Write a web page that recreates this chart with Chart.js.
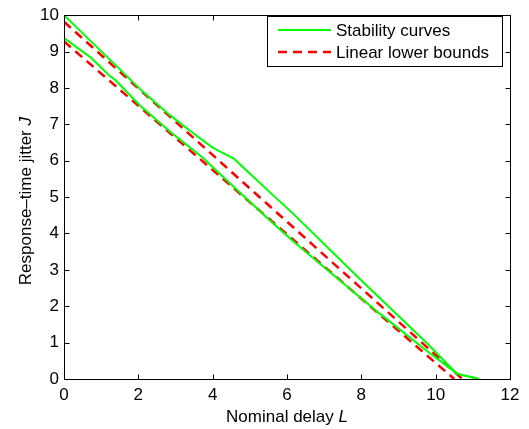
<!DOCTYPE html>
<html>
<head>
<meta charset="utf-8">
<script src="https://cdn.jsdelivr.net/npm/chart.js@4.4.0/dist/chart.umd.min.js"></script>
<style>
  html, body { margin: 0; padding: 0; background: #fff; }
</style>
</head>
<body>
<canvas id="grafico" width="529" height="429"></canvas>
<script>
// DADOS
const upperL = [0, 0.95, 2.12, 2.84, 3.46, 4.0, 4.58, 5.52, 6.15, 7.94, 9.74, 10.58, 11.17];
const upperJ = [10, 9.06, 7.9, 7.26, 6.77, 6.36, 6.05, 5.15, 4.56, 2.77, 1.01, 0.14, 0];
const lowerL = [0, 0.42, 0.73, 0.95, 1.22, 1.4, 2.03, 2.84, 3.73, 3.91, 5.52, 6.15, 7.94, 8.48, 9.74, 10.58, 11.17];
const lowerJ = [9.37, 9.06, 8.83, 8.61, 8.34, 8.2, 7.53, 6.81, 6.09, 5.91, 4.38, 3.8, 2.27, 1.81, 0.79, 0.14, 0];
const boundUpperL = [0, 10.72];
const boundUpperJ = [9.82, 0];
const boundLowerL = [0, 10.5];
const boundLowerJ = [9.28, 0];
const legendLabels = ['Stability curves', 'Linear lower bounds'];
const xTitle = ['Nominal delay ', 'L'];
const yTitle = ['Response\u2013time jitter ', 'J'];

const FONTE = '"Liberation Sans", Arial, Helvetica, sans-serif';
const VERDE = '#00ff00';
const VERMELHO = '#ff0000';

function pontos(xs, ys) {
    return xs.map((x, i) => ({ x: x, y: ys[i] }));
}

function textoMisto(ctx, partes, x, y) {
    // parte normal + parte em italico, centralizado em x
    ctx.font = '17px ' + FONTE;
    const w1 = ctx.measureText(partes[0]).width;
    ctx.font = 'italic 17px ' + FONTE;
    const w2 = ctx.measureText(partes[1]).width;
    let inicio = x - (w1 + w2) / 2;
    ctx.textAlign = 'left';
    ctx.textBaseline = 'middle';
    ctx.font = '17px ' + FONTE;
    ctx.fillText(partes[0], inicio, y);
    ctx.font = 'italic 17px ' + FONTE;
    ctx.fillText(partes[1], inicio + w1, y);
}

const molduraMatlab = {
    id: 'molduraMatlab',
    afterDraw(chart) {
        const ctx = chart.ctx;
        const a = chart.chartArea;
        const sx = chart.scales.x;
        const sy = chart.scales.y;
        const L = Math.round(a.left) + 0.5, R = Math.round(a.right) + 0.5;
        const T = Math.round(a.top) + 0.5, B = Math.round(a.bottom) + 0.5;
        ctx.save();
        ctx.strokeStyle = '#000';
        ctx.lineWidth = 1;
        ctx.strokeRect(L, T, R - L, B - T);
        // ticks para dentro
        ctx.beginPath();
        sx.ticks.forEach(t => {
            const px = Math.round(sx.getPixelForValue(t.value)) + 0.5;
            ctx.moveTo(px, B); ctx.lineTo(px, B - 5);
            ctx.moveTo(px, T); ctx.lineTo(px, T + 5);
        });
        sy.ticks.forEach(t => {
            const py = Math.round(sy.getPixelForValue(t.value)) + 0.5;
            ctx.moveTo(L, py); ctx.lineTo(L + 5, py);
            ctx.moveTo(R, py); ctx.lineTo(R - 5, py);
        });
        ctx.stroke();

        // titulos dos eixos
        ctx.fillStyle = '#000';
        textoMisto(ctx, xTitle, (a.left + a.right) / 2, 417);
        ctx.save();
        ctx.translate(26, (a.top + a.bottom) / 2 + 4);
        ctx.rotate(-Math.PI / 2);
        textoMisto(ctx, yTitle, 0, 0);
        ctx.restore();

        // legenda
        const lx = 267.5, ly = 16.5, lw = 235, lh = 50;
        ctx.fillStyle = '#fff';
        ctx.fillRect(lx, ly, lw, lh);
        ctx.strokeStyle = '#000';
        ctx.lineWidth = 1;
        ctx.strokeRect(lx, ly, lw, lh);
        const estilos = [chart.data.datasets[0], chart.data.datasets[2]];
        estilos.forEach((ds, i) => {
            const yy = 30 + i * 22;
            ctx.beginPath();
            ctx.strokeStyle = ds.borderColor;
            ctx.lineWidth = ds.borderWidth;
            ctx.setLineDash(ds.borderDash || []);
            ctx.moveTo(278, yy);
            ctx.lineTo(331, yy);
            ctx.stroke();
            ctx.setLineDash([]);
            ctx.fillStyle = '#000';
            ctx.font = '17px ' + FONTE;
            ctx.textAlign = 'left';
            ctx.textBaseline = 'middle';
            ctx.fillText(legendLabels[i], 336, yy + 1);
        });
        ctx.restore();
    }
};

function montarGrafico() {
    const ctx = document.getElementById('grafico').getContext('2d');
    const linhaVerde = { borderColor: VERDE, borderWidth: 2, pointRadius: 0, tension: 0, fill: false };
    const linhaVermelha = { borderColor: VERMELHO, borderWidth: 2.5, borderDash: [9, 6], pointRadius: 0, tension: 0, fill: false };

    new Chart(ctx, {
        type: 'scatter',
        data: {
            datasets: [
                Object.assign({ label: legendLabels[0], data: pontos(upperL, upperJ), showLine: true }, linhaVerde),
                Object.assign({ label: legendLabels[0], data: pontos(lowerL, lowerJ), showLine: true }, linhaVerde),
                Object.assign({ label: legendLabels[1], data: pontos(boundUpperL, boundUpperJ), showLine: true }, linhaVermelha),
                Object.assign({ label: legendLabels[1], data: pontos(boundLowerL, boundLowerJ), showLine: true }, linhaVermelha)
            ]
        },
        options: {
            responsive: false,
            animation: false,
            layout: { autoPadding: false, padding: { top: 8, right: 19, left: 0, bottom: 0 } },
            plugins: { legend: { display: false }, tooltip: { enabled: false } },
            scales: {
                x: {
                    type: 'linear', min: 0, max: 12,
                    grid: { display: false, drawTicks: false },
                    border: { display: false },
                    ticks: { stepSize: 2, color: '#000', padding: 6, maxRotation: 0, font: { family: FONTE, size: 17 } },
                    afterFit: s => { s.height = 50; }
                },
                y: {
                    type: 'linear', min: 0, max: 10,
                    grid: { display: false, drawTicks: false },
                    border: { display: false },
                    ticks: { stepSize: 1, color: '#000', padding: 5, font: { family: FONTE, size: 17 } },
                    afterFit: s => { s.width = 64; }
                }
            }
        },
        plugins: [molduraMatlab]
    });
}

montarGrafico();
</script>
</body>
</html>
